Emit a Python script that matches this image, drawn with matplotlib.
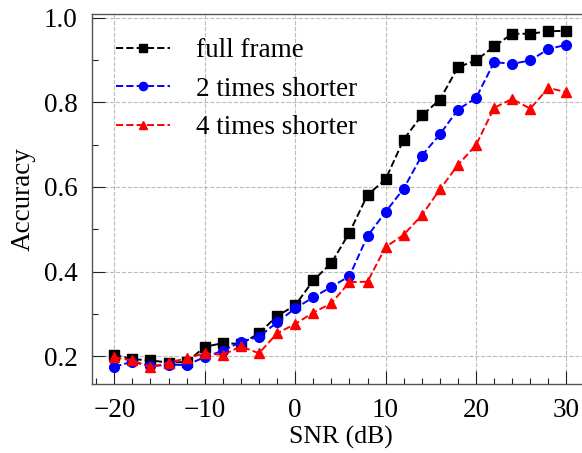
import matplotlib
matplotlib.use("Agg")
import matplotlib.pyplot as plt
from matplotlib.ticker import MultipleLocator

# SNR sweep (dB)
snr = [-20, -18, -16, -14, -12, -10, -8, -6, -4, -2, 0, 2, 4,
       6, 8, 10, 12, 14, 16, 18, 20, 22, 24, 26, 28, 30]

acc_full = [0.203, 0.193, 0.190, 0.185, 0.186, 0.222, 0.231, 0.229, 0.254, 0.295,
            0.320, 0.379, 0.420, 0.492, 0.581, 0.618, 0.712, 0.769, 0.806, 0.883,
            0.899, 0.932, 0.962, 0.962, 0.968, 0.969]
acc_half = [0.175, 0.187, 0.176, 0.180, 0.179, 0.198, 0.213, 0.234, 0.246, 0.280,
            0.313, 0.339, 0.364, 0.389, 0.484, 0.541, 0.596, 0.674, 0.724, 0.783,
            0.810, 0.895, 0.891, 0.899, 0.926, 0.936]
acc_quarter = [0.197, 0.190, 0.174, 0.185, 0.195, 0.207, 0.203, 0.223, 0.207, 0.254,
               0.276, 0.303, 0.325, 0.375, 0.376, 0.458, 0.487, 0.533, 0.594, 0.652,
               0.699, 0.787, 0.808, 0.785, 0.834, 0.824]

labels = ["full frame", "2 times shorter", "4 times shorter"]

plt.rcParams["font.family"] = ["Liberation Serif", "DejaVu Serif"]
plt.rcParams["font.size"] = 19.5

fig = plt.figure(figsize=(5.82, 4.53), dpi=100)
# axes deliberately runs past the right edge (reference is cropped there)
ax = fig.add_axes([0.1576, 0.1523, 0.8545, 0.8168])

ax.plot(snr, acc_full, "k--", marker="s", ms=6.5, lw=1.4, label=labels[0])
ax.plot(snr, acc_half, "b--", marker="o", ms=7, lw=1.4, label=labels[1])
ax.plot(snr, acc_quarter, "r--", marker="^", ms=7, lw=1.4, label=labels[2])

ax.set_xlim(-22.5, 32.5)
ax.xaxis.set_major_locator(MultipleLocator(10))
ax.xaxis.set_minor_locator(MultipleLocator(2))
ax.yaxis.set_major_locator(MultipleLocator(0.2))
ax.yaxis.set_minor_locator(MultipleLocator(0.1))

ax.tick_params(which="both", direction="in", top=False, right=False, color="#222222")
ax.tick_params(which="major", length=9.5, width=0.8, labelsize=19.5, pad=10)
ax.tick_params(which="minor", length=4.3, width=0.8)
for s in ax.spines.values():
    s.set_color("#555555")
    s.set_linewidth(1.0)

ax.grid(True, which="major", ls="--", color="#bbbbbb", lw=0.8)
ax.set_axisbelow(True)

ax.set_xlabel("SNR (dB)", fontsize=18.5, labelpad=2)
ax.set_ylabel("Accuracy", fontsize=19.5, labelpad=6)

ax.legend(loc="upper left", frameon=False, fontsize=19.5, handlelength=2.0,
          handletextpad=0.95, labelspacing=0.5, markerscale=0.85)

fig.savefig("out.png", dpi=100)
